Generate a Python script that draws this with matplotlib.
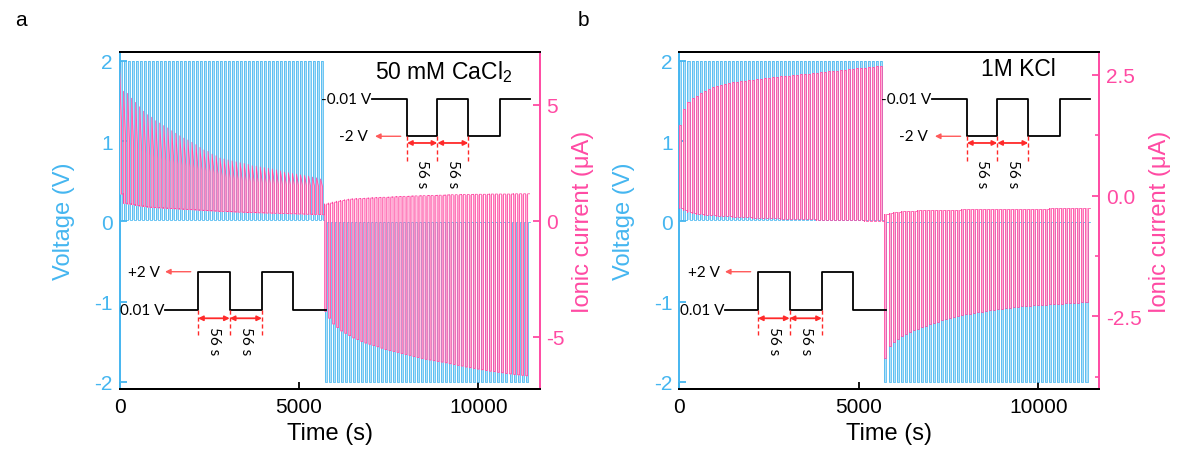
import numpy as np
import matplotlib.pyplot as plt
from matplotlib.ticker import MultipleLocator, FormatStrFormatter

plt.rcParams['font.family'] = ['Liberation Sans', 'DejaVu Sans']
plt.rcParams['axes.unicode_minus'] = False
plt.rcParams['mathtext.default'] = 'regular'

BLUE, BLUE_FILL = '#45B6F0', '#B0DFF8'
PINK, PINK_FILL = '#FF4AA3', '#FFAED4'
RED = '#FF2A2A'

# protocol: 56 s pulses, 51 pulses of each polarity
PULSE = 56
N_HALF = 51
V_POS = (0.01, 2.0)    # rest, pulse (V)
V_NEG = (-0.01, -2.0)

# panel a, 50 mM CaCl2 : current per pulse (uA)
a_pos_peak = [6.64, 5.58, 5.49, 5.28, 5.10, 4.91, 4.72, 4.57, 4.46, 4.31,
              4.21, 4.10, 4.00, 3.88, 3.77, 3.66, 3.56, 3.48, 3.38, 3.28,
              3.16, 3.05, 2.99, 2.87, 2.80, 2.70, 2.66, 2.62, 2.58, 2.54,
              2.50, 2.47, 2.43, 2.37, 2.35, 2.32, 2.29, 2.26, 2.23, 2.19,
              2.15, 2.09, 2.07, 2.04, 2.01, 1.98, 1.95, 1.92, 1.88, 1.85, 1.80]
a_pos_tail = [4.00, 3.50, 3.25, 3.15, 3.06, 2.98, 2.90, 2.82, 2.75, 2.69,
              2.63, 2.58, 2.52, 2.48, 2.43, 2.39, 2.35, 2.31, 2.26, 2.22,
              2.18, 2.14, 2.10, 2.06, 2.00, 1.92, 1.86, 1.82, 1.79, 1.76,
              1.73, 1.71, 1.68, 1.65, 1.64, 1.62, 1.61, 1.60, 1.59, 1.57,
              1.56, 1.55, 1.54, 1.53, 1.52, 1.51, 1.50, 1.49, 1.48, 1.47, 1.46]
a_pos_base = [1.15, 0.75, 0.72, 0.69, 0.66, 0.63, 0.61, 0.58, 0.57, 0.56,
              0.55, 0.54, 0.53, 0.52, 0.51, 0.50, 0.49, 0.48, 0.47, 0.46,
              0.45, 0.44, 0.43, 0.42, 0.41, 0.40, 0.40, 0.39, 0.38, 0.37,
              0.37, 0.36, 0.35, 0.35, 0.34, 0.34, 0.33, 0.33, 0.32, 0.32,
              0.31, 0.31, 0.30, 0.30, 0.29, 0.29, 0.28, 0.28, 0.27, 0.27, 0.26]
a_neg_peak = [-3.90, -4.20, -4.45, -4.60, -4.75, -4.85, -4.95, -5.05, -5.12, -5.20,
              -5.27, -5.32, -5.38, -5.43, -5.49, -5.55, -5.59, -5.63, -5.67, -5.72,
              -5.76, -5.80, -5.85, -5.89, -5.93, -5.97, -6.00, -6.03, -6.06, -6.09,
              -6.12, -6.16, -6.19, -6.23, -6.26, -6.30, -6.33, -6.36, -6.39, -6.42,
              -6.45, -6.48, -6.50, -6.53, -6.55, -6.58, -6.60, -6.62, -6.64, -6.66, -6.68]
a_neg_base = [0.72, 0.76, 0.80, 0.84, 0.87, 0.90, 0.93, 0.94, 0.95, 0.96,
              0.97, 0.98, 0.99, 1.00, 1.01, 1.01, 1.02, 1.03, 1.04, 1.05,
              1.05, 1.06, 1.07, 1.07, 1.08, 1.08, 1.09, 1.09, 1.10, 1.10,
              1.11, 1.12, 1.12, 1.12, 1.13, 1.13, 1.13, 1.14, 1.14, 1.14,
              1.14, 1.15, 1.15, 1.15, 1.15, 1.15, 1.15, 1.16, 1.16, 1.16, 1.16]

# panel b, 1M KCl : current per pulse (uA)
b_pos_peak = [1.45, 1.80, 1.93, 2.02, 2.07, 2.12, 2.16, 2.21, 2.24, 2.26,
              2.29, 2.31, 2.33, 2.34, 2.35, 2.37, 2.38, 2.39, 2.40, 2.41,
              2.42, 2.43, 2.44, 2.45, 2.46, 2.47, 2.47, 2.48, 2.49, 2.50,
              2.51, 2.52, 2.52, 2.53, 2.54, 2.55, 2.56, 2.57, 2.58, 2.58,
              2.59, 2.60, 2.61, 2.62, 2.63, 2.63, 2.64, 2.65, 2.66, 2.67, 2.68]
b_pos_base = [-0.25, -0.30, -0.34, -0.37, -0.38, -0.39, -0.40, -0.41, -0.41, -0.42,
              -0.42, -0.43, -0.43, -0.44, -0.44, -0.45, -0.45, -0.45, -0.46, -0.46,
              -0.46, -0.47, -0.47, -0.47, -0.47, -0.48, -0.48, -0.48, -0.48, -0.49,
              -0.49, -0.49, -0.49, -0.49, -0.50, -0.50, -0.50, -0.50, -0.50, -0.50,
              -0.51, -0.51, -0.51, -0.51, -0.51, -0.51, -0.52, -0.52, -0.52, -0.52, -0.52]
b_neg_peak = [-3.35, -3.12, -3.02, -2.96, -2.91, -2.86, -2.82, -2.78, -2.75, -2.72,
              -2.69, -2.66, -2.63, -2.61, -2.58, -2.56, -2.54, -2.52, -2.50, -2.47,
              -2.45, -2.44, -2.42, -2.41, -2.40, -2.38, -2.37, -2.36, -2.35, -2.34,
              -2.33, -2.32, -2.31, -2.30, -2.29, -2.28, -2.28, -2.27, -2.27, -2.26,
              -2.26, -2.25, -2.25, -2.24, -2.24, -2.23, -2.23, -2.22, -2.22, -2.21, -2.21]
b_neg_base = [-0.38, -0.36, -0.34, -0.33, -0.32, -0.31, -0.31, -0.31, -0.30, -0.30,
              -0.30, -0.30, -0.30, -0.29, -0.29, -0.29, -0.29, -0.29, -0.29, -0.28,
              -0.28, -0.28, -0.28, -0.28, -0.28, -0.28, -0.28, -0.28, -0.28, -0.28,
              -0.28, -0.27, -0.27, -0.27, -0.27, -0.27, -0.27, -0.27, -0.27, -0.27,
              -0.27, -0.26, -0.26, -0.26, -0.26, -0.26, -0.26, -0.26, -0.26, -0.26, -0.26]


def trace(first, peak, tail, base):
    # each pulse: jump to peak, relax to tail, back to base for the rest of the period
    t, y, y0 = [], [], []
    for k, (p, e, b) in enumerate(zip(peak, tail, base)):
        s = (first + k) * 2 * PULSE
        t += [s, s, s + PULSE, s + PULSE, s + 2 * PULSE]
        y += [b, p, e, b, b]
        y0 += [b] * 5
    return np.array(t), np.array(y), np.array(y0)


def joined(*parts):
    return [np.concatenate(c) for c in zip(*parts)]


def inset(ax, xs, rest, pulse, rest_txt, pulse_txt, txt_r, tip, tail, arrow_y, dash_end, s_y):
    tr = ax.transAxes
    levels = [rest, pulse, rest, pulse, rest]
    px, py = [], []
    for x0, x1, lv in zip(xs[:-1], xs[1:], levels):
        px += [x0, x1]
        py += [lv, lv]
    ax.plot(px, py, color='k', lw=1.3, transform=tr, clip_on=False, zorder=10)
    ax.text(xs[0] - 0.002, rest, rest_txt, transform=tr, ha='right', va='center',
            fontsize=11, family='Lato', zorder=10)
    ax.text(txt_r, pulse, pulse_txt, transform=tr, ha='right', va='center',
            fontsize=11, family='Lato', zorder=10)
    ax.annotate('', xy=(tip, pulse), xytext=(tail, pulse), xycoords=tr, textcoords=tr,
                arrowprops=dict(arrowstyle='-|>', color='#FF5A5A', lw=1.0,
                                mutation_scale=8, shrinkA=0, shrinkB=0), zorder=10)
    low = min(rest, pulse)
    for x in xs[1:4]:
        ax.plot([x, x], [low, dash_end], color=RED, lw=1.0, ls=(0, (3, 2)),
                transform=tr, zorder=10)
    for x0, x1 in zip(xs[1:3], xs[2:4]):
        ax.annotate('', xy=(x0, arrow_y), xytext=(x1, arrow_y), xycoords=tr, textcoords=tr,
                    arrowprops=dict(arrowstyle='<|-|>', color=RED, lw=1.3,
                                    mutation_scale=7, shrinkA=0, shrinkB=0), zorder=10)
        ax.text((x0 + x1) / 2, s_y, '56 s', transform=tr, rotation=270, ha='center',
                va='center', fontsize=11, family='Lato', zorder=10)


def panel(rect, pos, neg, ilim, iticks, ifmt, title, title_xy, minor=None):
    ax = fig.add_axes(rect)
    ax2 = ax.twinx()

    # applied voltage
    tv, vv, v0 = joined(trace(0, [V_POS[1]] * N_HALF, [V_POS[1]] * N_HALF, [V_POS[0]] * N_HALF),
                        trace(N_HALF, [V_NEG[1]] * N_HALF, [V_NEG[1]] * N_HALF, [V_NEG[0]] * N_HALF))
    ax.fill_between(tv, vv, v0, color=BLUE_FILL, lw=0)
    ax.plot(tv, vv, color=BLUE, lw=0.55)

    # ionic current
    ti, ii, i0 = joined(trace(0, *pos), trace(N_HALF, *neg))
    ax2.fill_between(ti, ii, i0, color=PINK_FILL, lw=0)
    ax2.plot(ti, ii, color=PINK, lw=0.55)

    ax.set_xlim(0, 11700)
    ax.set_ylim(-2.09, 2.11)
    ax2.set_ylim(*ilim)
    ax.set_xticks([0, 5000, 10000])
    ax.set_yticks([-2, -1, 0, 1, 2])
    ax2.set_yticks(iticks)
    ax2.yaxis.set_major_formatter(FormatStrFormatter(ifmt))
    if minor:
        ax2.yaxis.set_minor_locator(MultipleLocator(minor))
        ax2.tick_params(axis='y', which='minor', direction='in', length=3, width=1.2, colors=PINK)

    ax.tick_params(axis='x', direction='in', length=5, width=1.3, labelsize=15, pad=6)
    ax.tick_params(axis='y', direction='in', length=5, width=1.3, labelsize=15, colors=BLUE, pad=5)
    ax2.tick_params(axis='y', direction='in', length=5, width=1.3, labelsize=15, colors=PINK, pad=5)

    for a in (ax, ax2):
        for s in a.spines.values():
            s.set_linewidth(1.4)
    ax.spines['left'].set_color(BLUE)
    ax2.spines['left'].set_visible(False)
    ax2.spines['right'].set_color(PINK)
    ax.spines['right'].set_visible(False)

    ax.set_xlabel('Time (s)', fontsize=17, labelpad=4)
    ax.set_ylabel('Voltage (V)', fontsize=17, color=BLUE, labelpad=14)
    ax2.set_ylabel('Ionic current (\u03bcA)', fontsize=17, color=PINK, labelpad=5)

    ax2.text(title_xy[0], title_xy[1], title, transform=ax2.transAxes, ha='center',
             va='center', fontsize=16.5, zorder=10)

    inset(ax2, [0.601, 0.6845, 0.7567, 0.8305, 0.906, 0.9774], 0.8605, 0.7499,
          '-0.01 V', '-2 V', 0.5924, 0.6083, 0.6695, 0.730, 0.6736, 0.641)
    inset(ax2, [0.1083, 0.1869, 0.2624, 0.3393, 0.4131, 0.4917], 0.2353, 0.348,
          '0.01 V', '+2 V', 0.0964, 0.1083, 0.1695, 0.2098, 0.1573, 0.1454)
    return ax, ax2


fig = plt.figure(figsize=(11.79, 4.6), dpi=100)

panel([0.1014, 0.1522, 0.3562, 0.7326],
      (a_pos_peak, a_pos_tail, a_pos_base), (a_neg_peak, a_neg_peak, a_neg_base),
      (-7.25, 7.27), [-5, 0, 5], '%d', '50 mM CaCl$_2$', (0.7726, 0.9445))
panel([0.5763, 0.1522, 0.3562, 0.7326],
      (b_pos_peak, b_pos_peak, b_pos_base), (b_neg_peak, b_neg_peak, b_neg_base),
      (-4.0, 2.97), [-2.5, 0, 2.5], '%.1f', '1M KCl', (0.807, 0.9496), minor=1.25)

fig.text(0.0127, 0.9565, 'a', fontsize=15, va='center')
fig.text(0.4902, 0.9565, 'b', fontsize=15, va='center')

fig.savefig('out.png', dpi=100)
